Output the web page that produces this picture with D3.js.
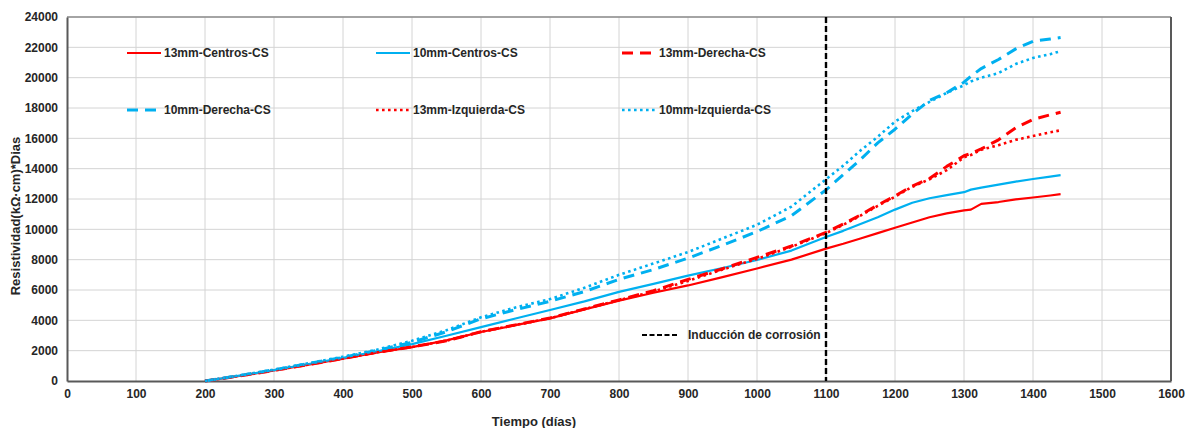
<!DOCTYPE html>
<html>
<head>
<meta charset="utf-8">
<script src="https://cdn.jsdelivr.net/npm/d3@7"></script>
<style>
  html, body { margin: 0; padding: 0; background: #fff; }
  svg { display: block; font-family: "Liberation Sans", Arial, sans-serif; }
</style>
</head>
<body>
<svg id="chart" width="1185" height="428"></svg>
<script>
// Accumulated resistivity (kΩ·cm · días) against time in days
const days = [200,250,300,350,400,450,500,550,600,650,700,750,800,850,900,950,1000,1050,1100,
              1125,1150,1175,1200,1225,1250,1275,1300,1310,1325,1350,1375,1400,1425,1440];

const centros13 = [0,330,700,1080,1480,1880,2230,2680,3230,3680,4130,4720,5300,5820,6300,6850,7420,8000,8730,
                   9050,9400,9750,10100,10450,10800,11050,11250,11300,11680,11800,11980,12100,12230,12320];
const centros10 = [0,350,720,1120,1530,1960,2430,2980,3550,4120,4680,5250,5880,6400,6950,7450,7980,8600,9500,
                   9900,10350,10800,11300,11750,12050,12250,12450,12620,12750,12950,13150,13320,13480,13570];
const derecha13 = [0,330,700,1080,1480,1900,2250,2650,3250,3700,4150,4750,5350,5950,6700,7400,8150,8900,9800,
                   10350,10950,11600,12200,12850,13350,14150,14850,15000,15300,15900,16700,17250,17550,17720];
const derecha10 = [0,360,740,1150,1560,2020,2550,3250,4100,4700,5250,5900,6700,7350,8100,8950,9850,10900,12600,
                   13600,14600,15700,16600,17600,18500,19000,19700,20100,20600,21200,21900,22400,22550,22650];
const izquierda13 = [0,330,700,1080,1480,1890,2240,2660,3240,3690,4140,4740,5330,5900,6600,7350,8050,8850,9750,
                     10300,10900,11550,12150,12800,13300,13900,14750,14900,15250,15550,15900,16150,16400,16530];
const izquierda10 = [0,370,750,1170,1600,2080,2650,3350,4200,4850,5400,6150,7000,7750,8500,9400,10300,11500,13300,
                     14200,15200,16100,17100,17800,18400,19000,19500,19750,20000,20300,20900,21300,21550,21750];

const seriesNames = ["13mm-Centros-CS","10mm-Centros-CS","13mm-Derecha-CS",
                     "10mm-Derecha-CS","13mm-Izquierda-CS","10mm-Izquierda-CS"];
const seriesValues = [centros13, centros10, derecha13, derecha10, izquierda13, izquierda10];

const xTicks = d3.range(0, 1601, 100);
const yTicks = d3.range(0, 24001, 2000);
const corrosionDay = 1100;
const corrosionLabel = "Inducción de corrosión";

const RED = "#ff0000", BLUE = "#00b0f0";
const styles = [
  {color: RED,  width: 2.2, dash: null},
  {color: BLUE, width: 2.2, dash: null},
  {color: RED,  width: 3,   dash: "11,7"},
  {color: BLUE, width: 3,   dash: "11,7"},
  {color: RED,  width: 2.6, dash: "2.6,3.4"},
  {color: BLUE, width: 2.6, dash: "2.6,3.4"}
];

const svg = d3.select("#chart");
const plotL = 67, plotR = 1171, plotT = 17, plotB = 381;

const x = d3.scaleLinear().domain([0, 1600]).range([plotL, plotR]);
const y = d3.scaleLinear().domain([0, 24000]).range([plotB, plotT]);

// gridlines
const grid = svg.append("g");
grid.selectAll("line.gy").data(yTicks.slice(1)).join("line")
  .attr("x1", plotL).attr("x2", plotR)
  .attr("y1", d => y(d)).attr("y2", d => y(d))
  .attr("stroke", "#d4d4d4").attr("stroke-width", 1);
grid.selectAll("line.gx").data(xTicks.slice(1)).join("line")
  .attr("y1", plotT).attr("y2", plotB)
  .attr("x1", d => x(d)).attr("x2", d => x(d))
  .attr("stroke", "#d4d4d4").attr("stroke-width", 1);

// plot frame
svg.append("line").attr("x1", plotL).attr("x2", plotR).attr("y1", plotT).attr("y2", plotT)
  .attr("stroke", "#8c8c8c").attr("stroke-width", 1.5);
svg.append("line").attr("x1", plotR).attr("x2", plotR).attr("y1", plotT).attr("y2", plotB)
  .attr("stroke", "#595959").attr("stroke-width", 2);

// axes
const tickFont = g => g.selectAll("text")
  .attr("font-size", 12).attr("font-weight", "bold").attr("fill", "#262626")
  .attr("font-family", "Liberation Sans, Arial, sans-serif");

svg.append("g").attr("transform", `translate(0,${plotB})`)
  .call(d3.axisBottom(x).tickValues(xTicks).tickSize(0).tickPadding(8).tickFormat(d3.format("d")))
  .call(g => g.select(".domain").attr("stroke", "#595959").attr("stroke-width", 2))
  .call(tickFont);

svg.append("g").attr("transform", `translate(${plotL},0)`)
  .call(d3.axisLeft(y).tickValues(yTicks).tickSize(0).tickPadding(9).tickFormat(d3.format("d")))
  .call(g => g.select(".domain").attr("stroke", "#595959").attr("stroke-width", 2))
  .call(tickFont);

// axis titles
svg.append("text").attr("x", (plotL + plotR) / 2 - 85).attr("y", 426)
  .attr("text-anchor", "middle").attr("font-size", 13).attr("font-weight", "bold")
  .attr("fill", "#262626").text("Tiempo (días)");
svg.append("text").attr("transform", `translate(20,${(plotT + plotB) / 2 + 17}) rotate(-90)`)
  .attr("text-anchor", "middle").attr("font-size", 13).attr("font-weight", "bold")
  .attr("fill", "#262626").text("Resistividad(kΩ·cm)*Dias");

// series lines
const line = d3.line().x((d, i) => x(days[i])).y(d => y(d));
const linesG = svg.append("g");
seriesValues.forEach((vals, k) => {
  const s = styles[k];
  linesG.append("path").datum(vals)
    .attr("d", line).attr("fill", "none")
    .attr("stroke", s.color).attr("stroke-width", s.width)
    .attr("stroke-dasharray", s.dash)
    .attr("stroke-linejoin", "round");
});

// corrosion induction marker
svg.append("line").attr("x1", x(corrosionDay)).attr("x2", x(corrosionDay))
  .attr("y1", plotT).attr("y2", plotB)
  .attr("stroke", "#000").attr("stroke-width", 2.4).attr("stroke-dasharray", "6,3");

// legend
const legendCols = [127, 376, 622];
const legendRows = [53, 110];
seriesNames.forEach((name, k) => {
  const s = styles[k];
  const lx = legendCols[k % 3], ly = legendRows[Math.floor(k / 3)];
  svg.append("line").attr("x1", lx).attr("x2", lx + 34).attr("y1", ly).attr("y2", ly)
    .attr("stroke", s.color).attr("stroke-width", s.width)
    .attr("stroke-dasharray", s.dash);
  svg.append("text").attr("x", lx + 37).attr("y", ly + 4)
    .attr("font-size", 12).attr("font-weight", "bold").attr("fill", "#262626").text(name);
});
svg.append("line").attr("x1", 642).attr("x2", 677).attr("y1", 335).attr("y2", 335)
  .attr("stroke", "#000").attr("stroke-width", 2).attr("stroke-dasharray", "5,2.5");
svg.append("text").attr("x", 688).attr("y", 339)
  .attr("font-size", 12).attr("font-weight", "bold").attr("fill", "#262626").text(corrosionLabel);
</script>
</body>
</html>
